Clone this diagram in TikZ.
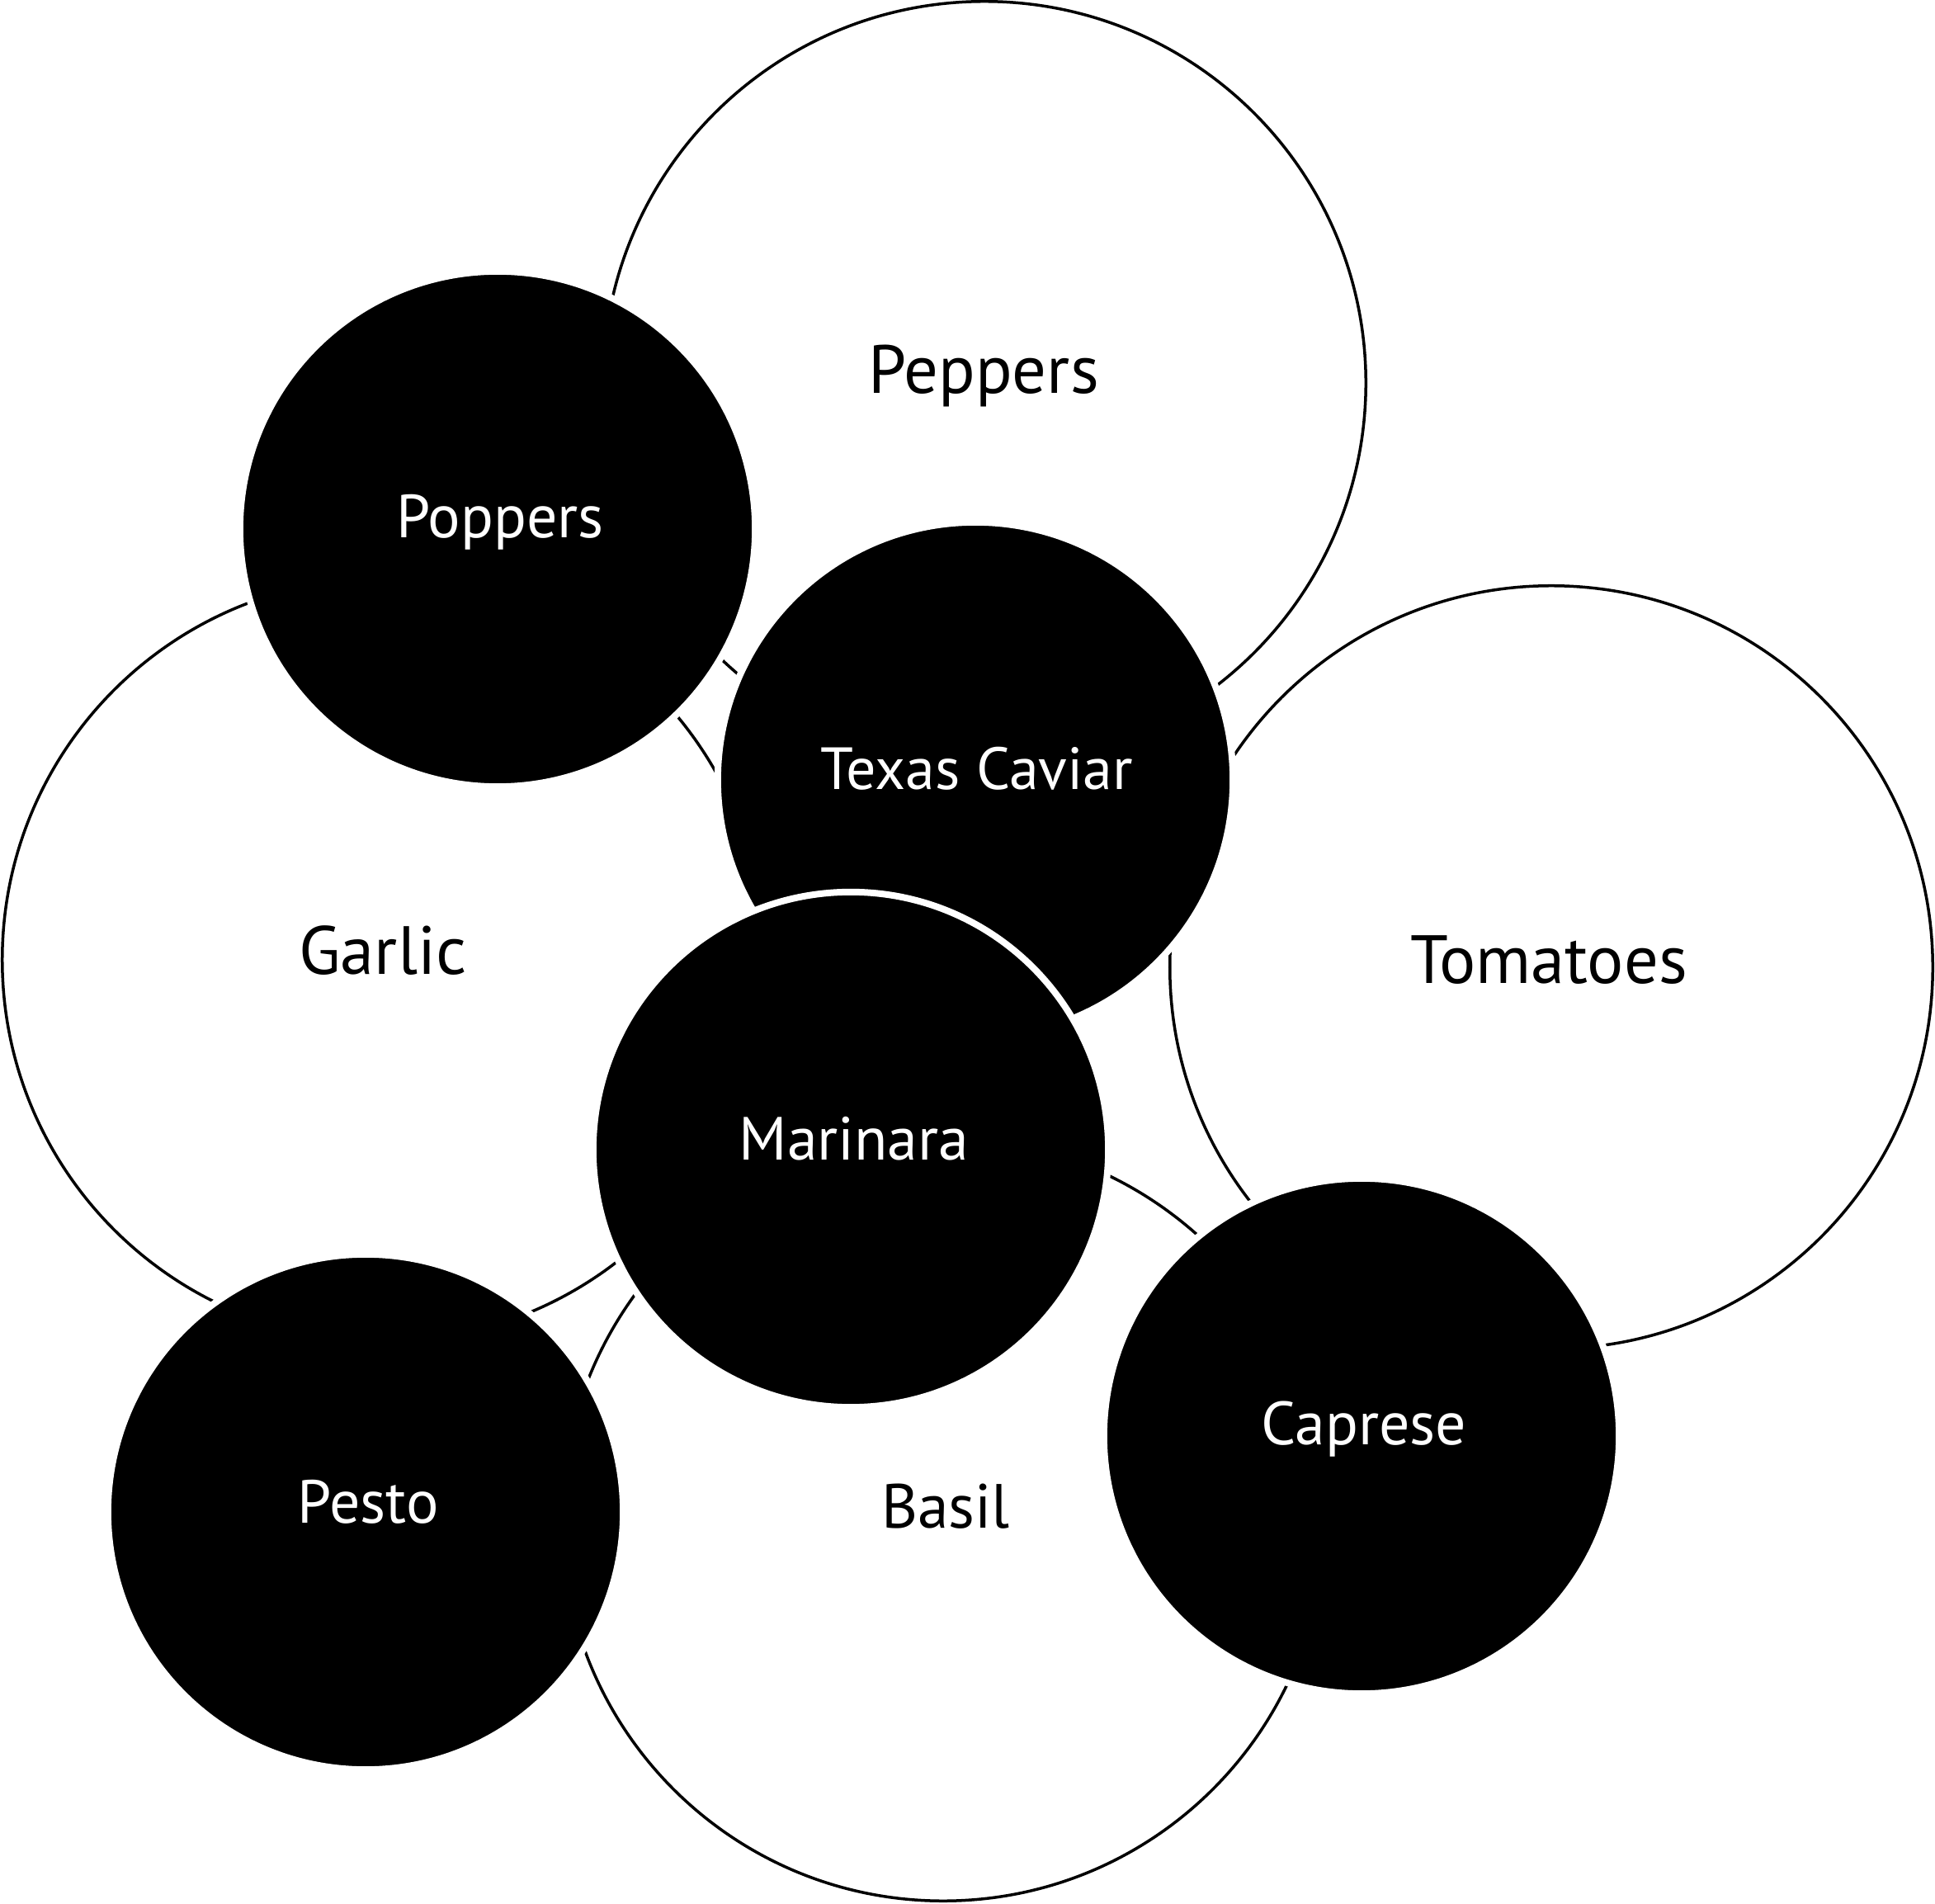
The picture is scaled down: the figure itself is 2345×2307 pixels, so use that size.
\documentclass[tikz,border=0pt]{standalone}
\usepackage{fontspec}
\setmainfont{PT Sans}
\begin{document}
\begin{tikzpicture}[x=0.01cm,y=-0.01cm,
  ingredient/.style={circle, draw=black, fill=white, line width=0.035cm, minimum size=9.24cm, inner sep=0pt},
  dish/.style={circle, draw=white, fill=black, line width=0.08cm, minimum size=6.24cm, inner sep=0pt},
  inglabel/.style={anchor=base, inner sep=0pt, font=\fontsize{23.5}{28}\selectfont, text=black},
  dishlabel/.style={anchor=base, inner sep=0pt, font=\fontsize{21}{25}\selectfont, text=white}]
\useasboundingbox (0,0) rectangle (2345,2307);
% ingredient circles
\node[ingredient] (garlic) at (465,1163) {};
\node[ingredient] (peppers) at (1193,464) {};
\node[ingredient] (tomatoes) at (1880,1172) {};
\node[ingredient] (basil) at (1143,1841) {};
% dish circles
\node[dish] (poppers) at (603,641) {};
\node[dish] (caviar) at (1182,945) {};
\node[dish] (pesto) at (443,1832) {};
\node[dish] (caprese) at (1650,1740) {};
\node[dish] (marinara) at (1031,1393) {};
% labels
\node[inglabel] (tGarlic) at (464,1180) {Garlic};
\node[inglabel] (tPeppers) at (1192,477) {Peppers};
\node[inglabel] (tTomatoes) at (1877,1192) {Tomatoes};
\node[inglabel, font=\fontsize{21.5}{26}\selectfont] (tBasil) at (1146,1851) {Basil};
\node[dishlabel] (tPoppers) at (606,652) {Poppers};
\node[dishlabel, font=\fontsize{20.5}{25}\selectfont] (tCaviar) at (1184,957) {Texas Caviar};
\node[dishlabel] (tMarinara) at (1035,1405) {Marinara};
\node[dishlabel] (tPesto) at (446,1845) {Pesto};
\node[dishlabel] (tCaprese) at (1653,1750) {Caprese};
\end{tikzpicture}
\end{document}
